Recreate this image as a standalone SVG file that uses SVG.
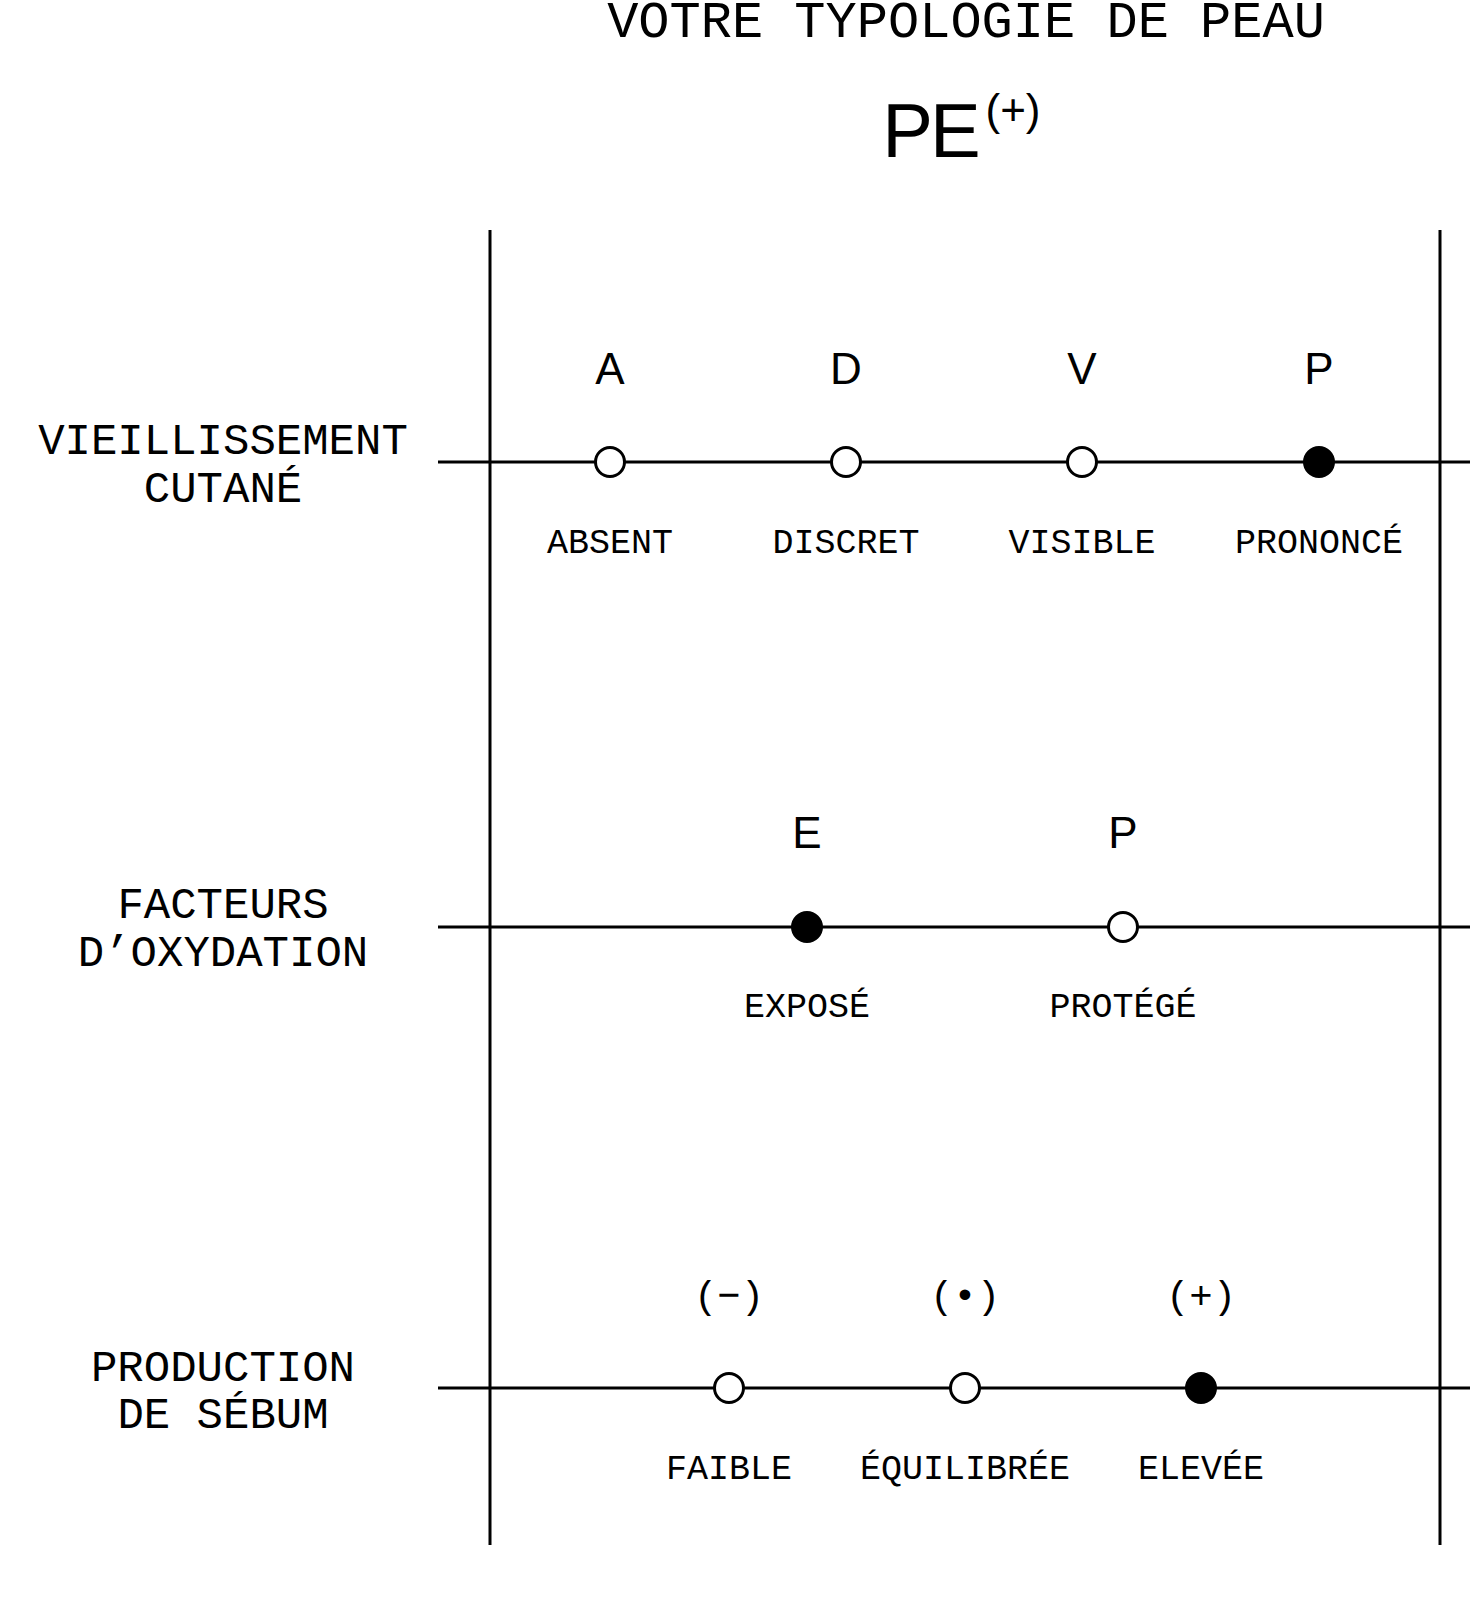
<svg xmlns="http://www.w3.org/2000/svg" width="1470" height="1620" viewBox="0 0 1470 1620">
<style>
.mono{font-family:"Liberation Mono","DejaVu Sans Mono",monospace;fill:#000}
.sans{font-family:"Liberation Sans",Arial,sans-serif;fill:#000}
.title{font-size:52px}
.row{font-size:44px}
.lab{font-size:35px}
.let{font-size:44px}
.sym{font-size:39px}
.ln{stroke:#000;stroke-width:3;fill:none}
.open{fill:#fff;stroke:#000;stroke-width:3}
.full{fill:#000;stroke:#000;stroke-width:3}
text{text-anchor:middle}
</style>
<rect width="1470" height="1620" fill="#fff"/>
<g id="title">
<text class="mono title" x="966" y="37">VOTRE TYPOLOGIE DE PEAU</text>
<text class="sans" x="930" y="157" font-size="76" letter-spacing="-3">PE</text>
<text class="sans" x="1013" y="125" font-size="44">(+)</text>
</g>
<g id="connectors">
<line class="ln" x1="490" y1="230" x2="490" y2="1545"/>
<line class="ln" x1="1440" y1="230" x2="1440" y2="1545"/>
<line class="ln" x1="438" y1="462" x2="1470" y2="462"/>
<line class="ln" x1="438" y1="927" x2="1470" y2="927"/>
<line class="ln" x1="438" y1="1388" x2="1470" y2="1388"/>
</g>
<g id="row-vieillissement">
<text class="mono row" x="223" y="454">VIEILLISSEMENT</text>
<text class="mono row" x="223" y="502">CUTANÉ</text>
</g>
<g id="row-oxydation">
<text class="mono row" x="223" y="918">FACTEURS</text>
<text class="mono row" x="223" y="966">D’OXYDATION</text>
</g>
<g id="row-sebum">
<text class="mono row" x="223" y="1381">PRODUCTION</text>
<text class="mono row" x="223" y="1428" font-size="45">DE SÉBUM</text>
</g>
<g id="node-absent">
<text class="sans let" x="610" y="384">A</text>
<circle class="open" cx="610" cy="462" r="14.5"/>
<text class="mono lab" x="610" y="553">ABSENT</text>
</g>
<g id="node-discret">
<text class="sans let" x="846" y="384">D</text>
<circle class="open" cx="846" cy="462" r="14.5"/>
<text class="mono lab" x="846" y="553">DISCRET</text>
</g>
<g id="node-visible">
<text class="sans let" x="1082" y="384">V</text>
<circle class="open" cx="1082" cy="462" r="14.5"/>
<text class="mono lab" x="1082" y="553">VISIBLE</text>
</g>
<g id="node-prononce">
<text class="sans let" x="1319" y="384">P</text>
<circle class="full" cx="1319" cy="462" r="14.5"/>
<text class="mono lab" x="1319" y="553">PRONONCÉ</text>
</g>
<g id="node-expose">
<text class="sans let" x="807" y="848">E</text>
<circle class="full" cx="807" cy="927" r="14.5"/>
<text class="mono lab" x="807" y="1017">EXPOSÉ</text>
</g>
<g id="node-protege">
<text class="sans let" x="1123" y="848">P</text>
<circle class="open" cx="1123" cy="927" r="14.5"/>
<text class="mono lab" x="1123" y="1017">PROTÉGÉ</text>
</g>
<g id="node-faible">
<text class="mono sym" x="729" y="1308">(−)</text>
<circle class="open" cx="729" cy="1388" r="14.5"/>
<text class="mono lab" x="729" y="1479">FAIBLE</text>
</g>
<g id="node-equilibree">
<text class="mono sym" x="965" y="1308">(•)</text>
<circle class="open" cx="965" cy="1388" r="14.5"/>
<text class="mono lab" x="965" y="1479">ÉQUILIBRÉE</text>
</g>
<g id="node-elevee">
<text class="mono sym" x="1201" y="1308">(+)</text>
<circle class="full" cx="1201" cy="1388" r="14.5"/>
<text class="mono lab" x="1201" y="1479">ELEVÉE</text>
</g>
</svg>
